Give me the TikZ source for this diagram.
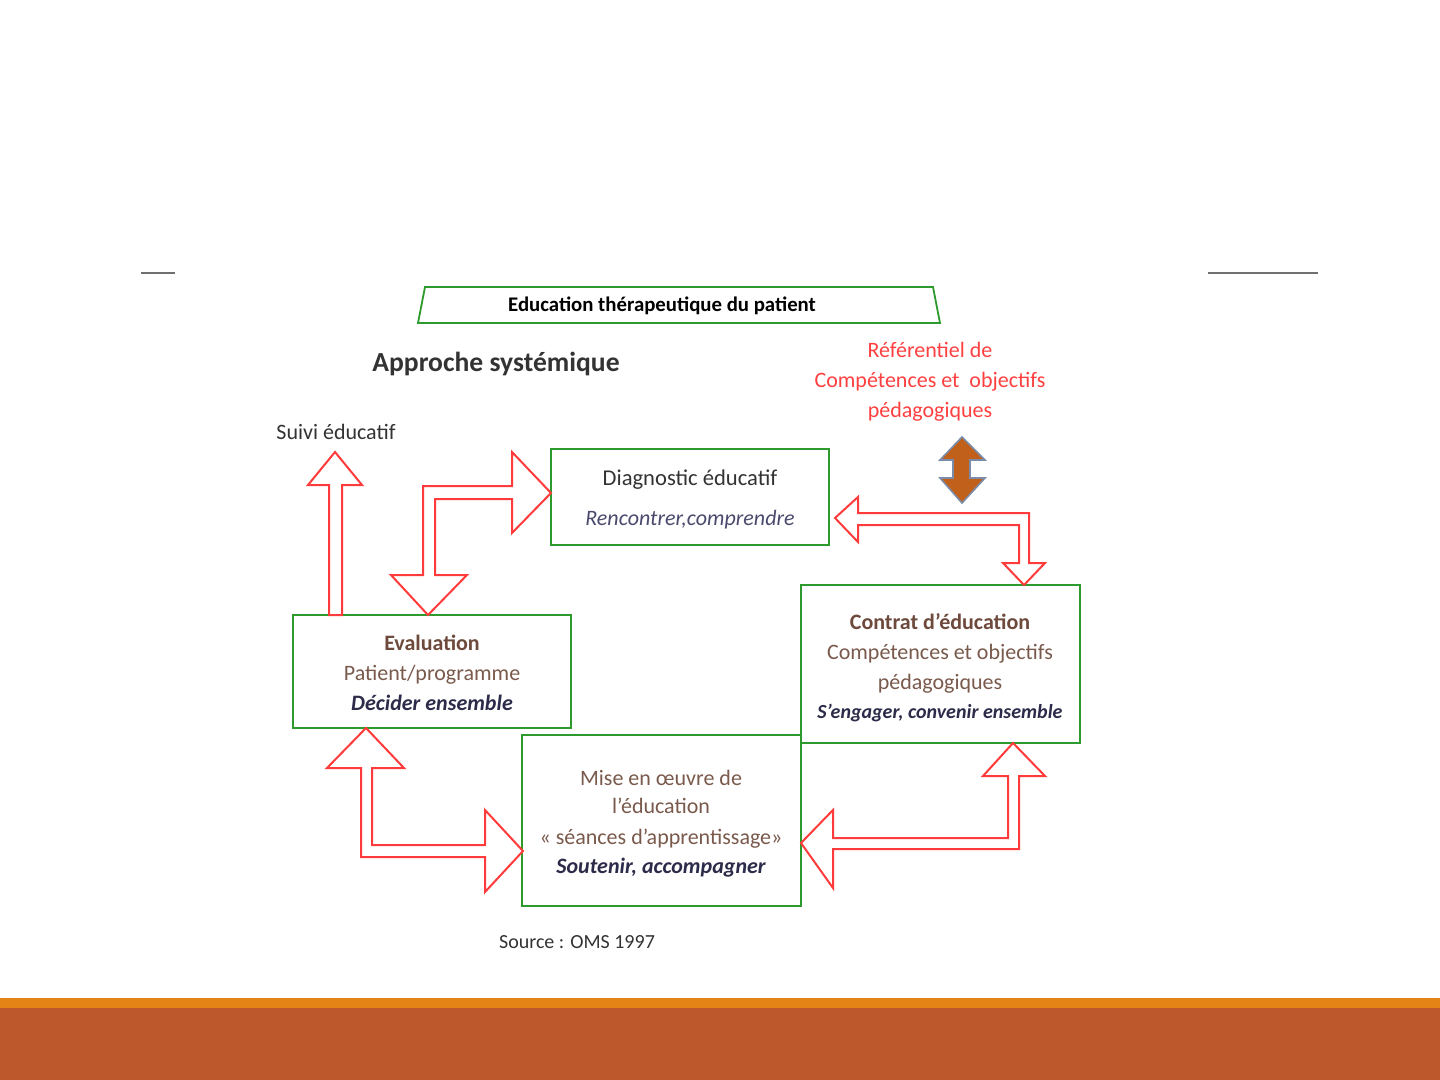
\documentclass[tikz,border=0pt]{standalone}
\usepackage{fontspec}
\setmainfont{Carlito}
\begin{document}
\begin{tikzpicture}[x=0.5pt,y=-0.5pt,
  gbox/.style={draw=boxgreen,line width=0.9pt,fill=white},
  barrow/.style={draw=arrred,line width=1pt,fill=white,line join=miter},
  txt/.style={inner sep=0pt,anchor=base,font=\fontsize{11}{13}\selectfont},
]
\definecolor{boxgreen}{HTML}{2E9A2E}
\definecolor{arrred}{HTML}{FF3B3B}
\definecolor{tgray}{HTML}{333333}
\definecolor{tblue}{HTML}{4A4A6E}
\definecolor{tbrown}{HTML}{6E4A3C}
\definecolor{tbrownl}{HTML}{7A5A4C}
\definecolor{tnavy}{HTML}{2C2C4A}
\definecolor{refred}{HTML}{FF4040}
\definecolor{barorange}{HTML}{E48316}
\definecolor{bardark}{HTML}{BD582C}
\definecolor{dbrown}{HTML}{C0601A}
\definecolor{dblue}{HTML}{7A8CA8}
\definecolor{lgray}{HTML}{707070}
\useasboundingbox (0,0) rectangle (1440,1080);
\fill[white] (0,0) rectangle (1440,1080);
% bottom bars
\fill[barorange] (0,998) rectangle (1440,1008);
\fill[bardark] (0,1008) rectangle (1440,1080);
% top lines
\draw[lgray,line width=0.7pt] (141,273) -- (175,273);
\draw[lgray,line width=0.7pt] (1208,273) -- (1318,273);
% title trapezoid
\draw[boxgreen,line width=0.9pt,fill=white] (418,323) -- (425,287) -- (933,287) -- (940,323) -- cycle;
\node[txt,font=\fontsize{10.4}{12}\selectfont\bfseries,text=black] (title) at (662,312) {Education thérapeutique du patient};
\node[txt,font=\fontsize{13.8}{16}\selectfont\bfseries,text=tgray] (appr) at (496,372) {Approche systémique};
% referentiel
\node[txt,text=refred] (ref1) at (930,358) {Référentiel de};
\node[txt,text=refred] (ref2) at (930,388) {Compétences et\ \ objectifs};
\node[txt,text=refred] (ref3) at (930,418) {pédagogiques};
% brown double arrow
\draw[draw=dblue,line width=0.8pt,fill=dbrown] (962,437) -- (985,460) -- (970,460) -- (970,478) -- (985,478) -- (962,503) -- (940,478) -- (953,478) -- (953,460) -- (940,460) -- cycle;
% boxes
\draw[gbox] (551,449) rectangle (829,545);
\node (diag) at (690,497) {};
\draw[gbox] (293,615) rectangle (571,728);
\node (eval) at (432,671) {};
\draw[gbox] (801,585) rectangle (1080,743);
\node (contrat) at (940,664) {};
\draw[gbox] (522,735) rectangle (801,906);
\node (mise) at (661,820) {};
% box texts
\node[txt,text=tgray,font=\fontsize{11.3}{13}\selectfont] (d1) at (690,485) {Diagnostic éducatif};
\node[txt,text=tblue,font=\fontsize{11}{13}\selectfont\itshape] (d2) at (690,525) {Rencontrer,comprendre};
\node[txt,text=tbrown,font=\fontsize{11}{13}\selectfont\bfseries] (e1) at (432,650) {Evaluation};
\node[txt,text=tbrownl] (e2) at (432,680) {Patient/programme};
\node[txt,text=tnavy,font=\fontsize{11}{13}\selectfont\bfseries\itshape] (e3) at (432,710) {Décider ensemble};
\node[txt,text=tbrown,font=\fontsize{11}{13}\selectfont\bfseries] (c1) at (940,629) {Contrat d’éducation};
\node[txt,text=tbrownl] (c2) at (940,659) {Compétences et objectifs};
\node[txt,text=tbrownl] (c3) at (940,689) {pédagogiques};
\node[txt,text=tnavy,font=\fontsize{10}{12}\selectfont\bfseries\itshape] (c4) at (940,718) {S’engager, convenir ensemble};
\node[txt,text=tbrownl] (m1) at (661,785) {Mise en œuvre de};
\node[txt,text=tbrownl] (m2) at (661,813) {l’éducation};
\node[txt,text=tbrownl] (m3) at (661,844) {« séances d’apprentissage»};
\node[txt,text=tnavy,font=\fontsize{11}{13}\selectfont\bfseries\itshape] (m4) at (661,873) {Soutenir, accompagner};
% suivi
\node[txt,text=tgray] (suivi) at (336,439) {Suivi éducatif};
% block arrows
\draw[barrow] (335,452) -- (362,485) -- (342,485) -- (342,615) -- (329,615) -- (329,485) -- (308,485) -- cycle;
\draw[barrow] (428,615) -- (467,575) -- (435,575) -- (435,499) -- (512,499) -- (512,533) -- (551,493) -- (512,452) -- (512,486) -- (423,486) -- (423,575) -- (391,575) -- cycle;
\draw[barrow] (835,518) -- (858,497) -- (858,513) -- (1029,513) -- (1029,563) -- (1045,563) -- (1024,585) -- (1003,563) -- (1019,563) -- (1019,525) -- (858,525) -- (858,542) -- cycle;
\draw[barrow] (801,843) -- (833,810) -- (833,838) -- (1008,838) -- (1008,776) -- (983,776) -- (1013,743) -- (1045,776) -- (1019,776) -- (1019,849) -- (833,849) -- (833,888) -- cycle;
\draw[barrow] (366,728) -- (404,768) -- (372,768) -- (372,845) -- (485,845) -- (485,810) -- (523,851) -- (485,892) -- (485,857) -- (361,857) -- (361,768) -- (327,768) -- cycle;
% source
\node[txt,text=tgray,font=\fontsize{10}{12}\selectfont] (src) at (577,948) {Source : OMS 1997};
\end{tikzpicture}
\end{document}
